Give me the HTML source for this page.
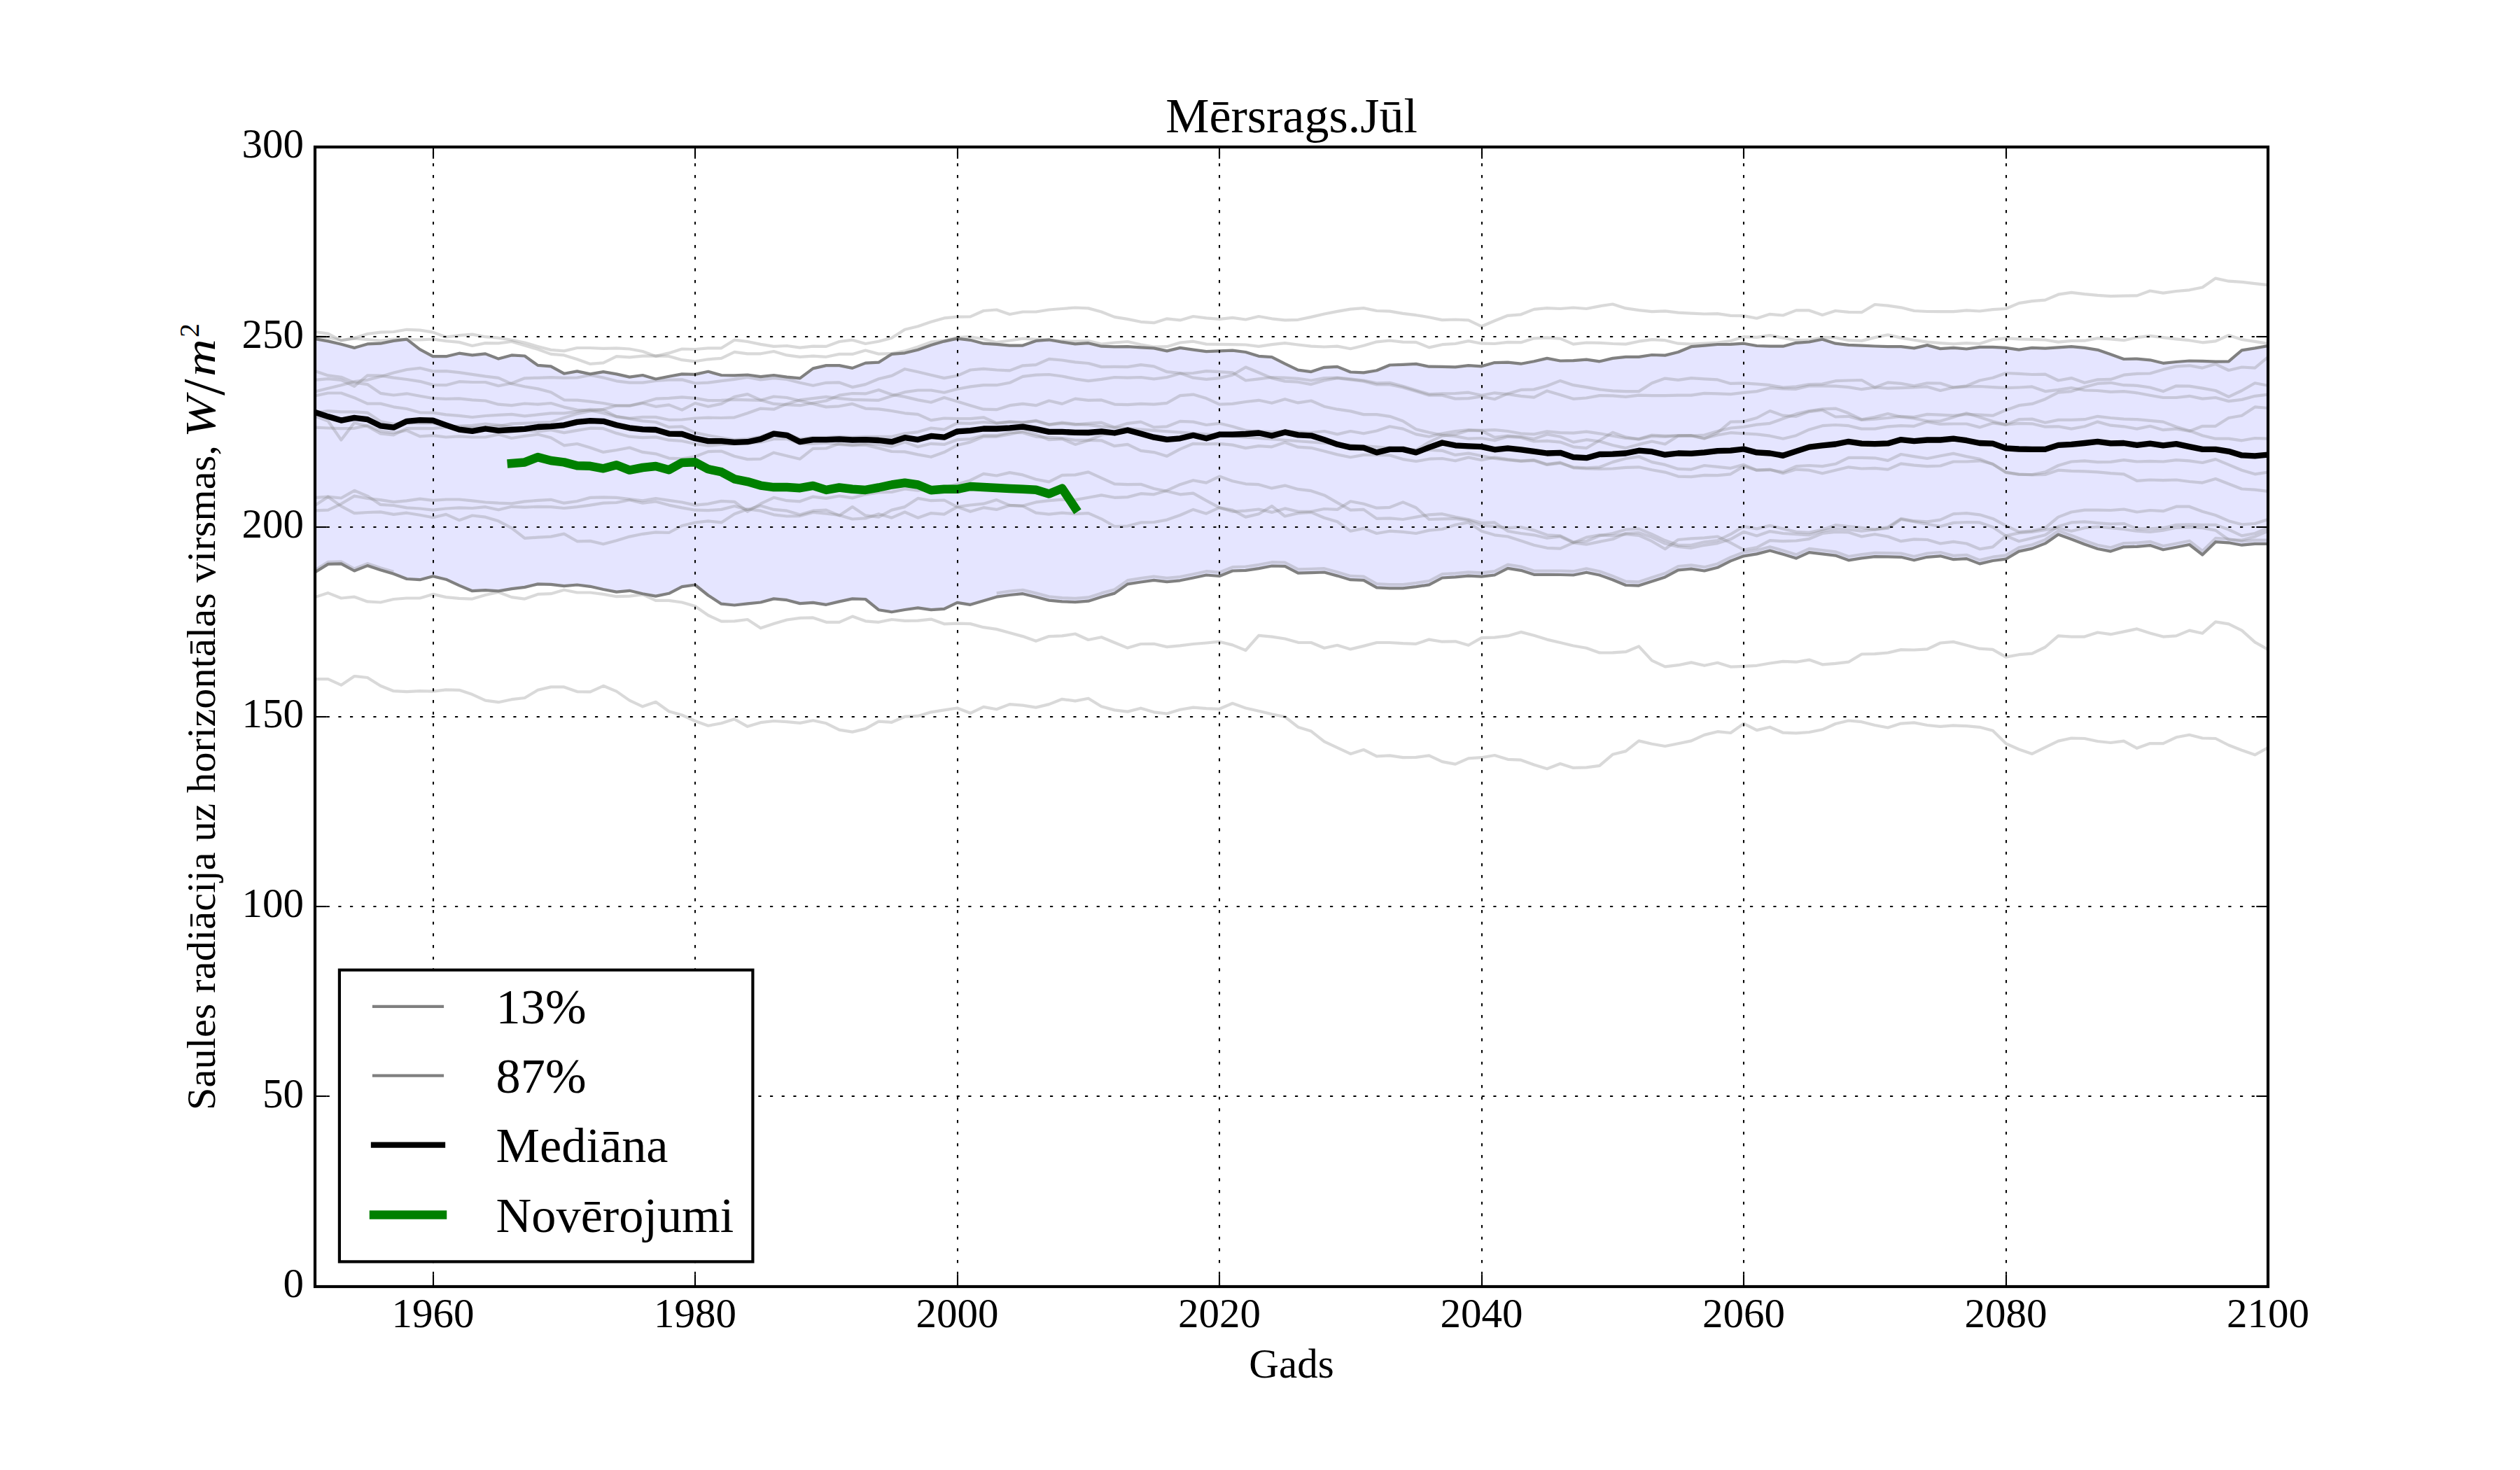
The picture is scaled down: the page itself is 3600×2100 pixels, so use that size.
<!DOCTYPE html>
<html lang="lv"><head><meta charset="utf-8"><title>Mērsrags.Jūl</title>
<style>
html,body{margin:0;padding:0;background:#fff;}
body{width:3600px;height:2100px;overflow:hidden;}
svg{display:block;}
text{font-family:"Liberation Serif","DejaVu Serif",serif;fill:#000;}
.tk{font-size:59px;}
.lg{font-size:70.3px;}
</style></head><body>
<svg width="3600" height="2100" viewBox="0 0 3600 2100">
<rect x="0" y="0" width="3600" height="2100" fill="#ffffff"/>
<defs><clipPath id="ax"><rect x="450.0" y="210.0" width="2790.0" height="1627.5"/></clipPath></defs>
<g clip-path="url(#ax)" fill="none" stroke-linejoin="round" stroke-linecap="butt">
<polygon points="450.0,484.0 468.7,487.4 487.4,491.8 506.2,496.9 524.9,491.4 543.6,490.7 562.3,486.9 581.1,484.7 599.8,499.2 618.5,509.2 637.2,509.2 656.0,504.7 674.7,507.4 693.4,505.4 712.1,512.6 730.9,507.4 749.6,508.5 768.3,521.9 787.0,523.3 805.8,533.7 824.5,530.4 843.2,534.4 861.9,531.1 880.7,534.4 899.4,538.6 918.1,536.0 936.8,541.5 955.6,537.8 974.3,534.4 993.0,534.9 1011.7,530.8 1030.5,536.0 1049.2,536.4 1067.9,535.5 1086.6,538.2 1105.4,536.0 1124.1,538.6 1142.8,540.4 1161.5,526.4 1180.3,522.1 1199.0,522.1 1217.7,525.9 1236.4,518.6 1255.2,517.7 1273.9,505.9 1292.6,504.3 1311.3,499.8 1330.1,493.1 1348.8,487.6 1367.5,483.6 1386.2,485.8 1405.0,490.7 1423.7,491.8 1442.4,493.6 1461.1,493.6 1479.9,486.9 1498.6,485.3 1517.3,488.7 1536.0,491.4 1554.8,490.2 1573.5,494.7 1592.2,495.4 1610.9,495.2 1629.7,496.3 1648.4,497.4 1667.1,501.4 1685.8,496.9 1704.6,499.6 1723.3,502.1 1742.0,501.4 1760.7,500.7 1779.5,503.0 1798.2,508.8 1816.9,510.1 1835.6,519.7 1854.4,528.6 1873.1,531.1 1891.8,524.8 1910.5,523.9 1929.3,531.5 1948.0,532.4 1966.7,529.3 1985.4,521.5 2004.2,520.8 2022.9,519.9 2041.6,523.7 2060.3,523.9 2079.1,524.4 2097.8,522.1 2116.5,523.3 2135.2,518.1 2154.0,517.7 2172.7,519.7 2191.4,516.3 2210.1,511.9 2228.9,515.5 2247.6,515.2 2266.3,513.7 2285.0,516.3 2303.8,511.9 2322.5,509.9 2341.2,509.9 2359.9,507.0 2378.7,507.6 2397.4,503.0 2416.1,495.2 2434.8,493.6 2453.6,492.0 2472.3,491.8 2491.0,490.7 2509.7,494.0 2528.5,494.7 2547.2,494.7 2565.9,489.8 2584.6,488.5 2603.4,484.7 2622.1,490.7 2640.8,492.9 2659.5,493.6 2678.3,494.5 2697.0,495.2 2715.7,495.2 2734.4,497.4 2753.2,493.1 2771.9,498.1 2790.6,496.9 2809.3,498.5 2828.1,495.8 2846.8,495.8 2865.5,496.9 2884.2,499.6 2903.0,496.9 2921.7,497.6 2940.4,496.3 2959.1,495.2 2977.9,496.9 2996.6,499.8 3015.3,506.3 3034.0,513.0 3052.8,512.6 3071.5,514.3 3090.2,518.8 3108.9,517.0 3127.7,515.5 3146.4,515.9 3165.1,516.6 3183.8,516.3 3202.6,500.3 3221.3,497.4 3240.0,494.0 3240.0,776.9 3221.3,776.9 3202.6,778.7 3183.8,775.3 3165.1,774.2 3146.4,792.5 3127.7,778.0 3108.9,781.8 3090.2,785.3 3071.5,779.1 3052.8,780.9 3034.0,781.3 3015.3,787.6 2996.6,784.0 2977.9,777.5 2959.1,770.2 2940.4,763.5 2921.7,776.4 2903.0,783.6 2884.2,787.6 2865.5,798.7 2846.8,801.0 2828.1,805.4 2809.3,798.1 2790.6,799.2 2771.9,794.3 2753.2,795.8 2734.4,800.3 2715.7,795.8 2697.0,795.4 2678.3,795.2 2659.5,797.4 2640.8,800.3 2622.1,793.6 2603.4,791.4 2584.6,789.1 2565.9,797.6 2547.2,791.8 2528.5,786.5 2509.7,791.4 2491.0,794.3 2472.3,801.4 2453.6,810.8 2434.8,815.5 2416.1,812.6 2397.4,814.3 2378.7,824.4 2359.9,830.4 2341.2,836.6 2322.5,836.0 2303.8,828.2 2285.0,821.5 2266.3,817.7 2247.6,821.5 2228.9,821.0 2210.1,820.8 2191.4,820.8 2172.7,814.8 2154.0,811.9 2135.2,821.5 2116.5,823.7 2097.8,822.6 2079.1,824.4 2060.3,825.5 2041.6,835.3 2022.9,838.2 2004.2,840.4 1985.4,840.4 1966.7,839.3 1948.0,828.8 1929.3,828.2 1910.5,822.6 1891.8,817.5 1873.1,818.1 1854.4,818.6 1835.6,808.8 1816.9,808.5 1798.2,812.1 1779.5,814.8 1760.7,815.5 1742.0,823.0 1723.3,821.5 1704.6,825.5 1685.8,829.3 1667.1,831.1 1648.4,828.8 1629.7,831.5 1610.9,834.4 1592.2,847.6 1573.5,852.7 1554.8,858.7 1536.0,860.1 1517.3,859.4 1498.6,857.6 1479.9,852.7 1461.1,848.2 1442.4,850.0 1423.7,852.7 1405.0,858.3 1386.2,863.8 1367.5,860.9 1348.8,869.9 1330.1,871.2 1311.3,868.3 1292.6,871.0 1273.9,874.3 1255.2,871.2 1236.4,856.0 1217.7,855.4 1199.0,859.4 1180.3,863.8 1161.5,860.9 1142.8,862.1 1124.1,857.2 1105.4,855.4 1086.6,860.5 1067.9,862.3 1049.2,864.5 1030.5,862.7 1011.7,850.5 993.0,835.5 974.3,838.2 955.6,847.8 936.8,851.6 918.1,848.2 899.4,843.8 880.7,845.6 861.9,842.0 843.2,837.8 824.5,835.5 805.8,837.1 787.0,834.9 768.3,834.4 749.6,838.9 730.9,841.1 712.1,844.4 693.4,843.1 674.7,844.2 656.0,836.4 637.2,827.7 618.5,823.3 599.8,828.2 581.1,827.0 562.3,819.7 543.6,814.3 524.9,808.1 506.2,815.5 487.4,805.4 468.7,805.9 450.0,817.5" fill="#0000ff" fill-opacity="0.1" stroke="none"/>
<polyline points="450.0,853.1 468.7,847.1 487.4,854.5 506.2,852.7 524.9,859.4 543.6,860.5 562.3,856.0 581.1,854.5 599.8,854.5 618.5,848.9 637.2,853.1 656.0,854.9 674.7,855.6 693.4,850.0 712.1,846.0 730.9,853.1 749.6,855.6 768.3,848.9 787.0,848.2 805.8,842.7 824.5,846.5 843.2,846.5 861.9,848.9 880.7,852.2 899.4,851.6 918.1,849.3 936.8,857.8 955.6,857.8 974.3,860.5 993.0,866.1 1011.7,879.0 1030.5,887.7 1049.2,887.3 1067.9,885.0 1086.6,897.3 1105.4,891.1 1124.1,885.5 1142.8,882.8 1161.5,882.4 1180.3,888.8 1199.0,888.8 1217.7,880.6 1236.4,887.3 1255.2,888.8 1273.9,885.0 1292.6,886.8 1311.3,886.6 1330.1,884.6 1348.8,891.3 1367.5,890.6 1386.2,891.1 1405.0,896.2 1423.7,898.9 1442.4,904.0 1461.1,909.1 1479.9,915.8 1498.6,909.1 1517.3,908.4 1536.0,905.5 1554.8,914.0 1573.5,910.2 1592.2,918.0 1610.9,925.6 1629.7,920.0 1648.4,919.8 1667.1,924.1 1685.8,922.3 1704.6,920.0 1723.3,918.5 1742.0,916.7 1760.7,921.4 1779.5,929.0 1798.2,907.8 1816.9,909.6 1835.6,912.5 1854.4,917.8 1873.1,918.0 1891.8,925.8 1910.5,921.8 1929.3,927.4 1948.0,922.9 1966.7,918.0 1985.4,918.0 2004.2,919.2 2022.9,919.8 2041.6,913.6 2060.3,916.7 2079.1,916.3 2097.8,921.8 2116.5,911.1 2135.2,910.7 2154.0,908.4 2172.7,902.9 2191.4,907.8 2210.1,913.6 2228.9,918.0 2247.6,922.5 2266.3,925.8 2285.0,932.5 2303.8,932.3 2322.5,931.2 2341.2,923.4 2359.9,943.7 2378.7,952.4 2397.4,950.2 2416.1,946.4 2434.8,950.8 2453.6,946.8 2472.3,952.6 2491.0,951.9 2509.7,950.8 2528.5,947.5 2547.2,944.8 2565.9,945.7 2584.6,942.6 2603.4,949.3 2622.1,947.9 2640.8,945.7 2659.5,934.5 2678.3,934.1 2697.0,932.5 2715.7,928.1 2734.4,928.5 2753.2,927.4 2771.9,918.5 2790.6,916.9 2809.3,921.8 2828.1,926.7 2846.8,927.9 2865.5,938.6 2884.2,935.2 2903.0,933.6 2921.7,924.5 2940.4,908.4 2959.1,909.6 2977.9,909.6 2996.6,903.5 3015.3,906.2 3034.0,902.4 3052.8,898.4 3071.5,904.4 3090.2,909.6 3108.9,908.4 3127.7,900.6 3146.4,904.7 3165.1,888.4 3183.8,891.3 3202.6,900.6 3221.3,917.4 3240.0,927.9" stroke="#808080" stroke-opacity="0.3" stroke-width="4.2"/>
<polyline points="450.0,970.2 468.7,970.2 487.4,978.7 506.2,966.0 524.9,968.0 543.6,979.8 562.3,987.2 581.1,988.1 599.8,987.2 618.5,987.6 637.2,985.4 656.0,985.8 674.7,992.1 693.4,1000.6 712.1,1003.2 730.9,999.2 749.6,997.0 768.3,985.8 787.0,981.4 805.8,981.4 824.5,988.1 843.2,988.3 861.9,979.8 880.7,987.6 899.4,1000.6 918.1,1009.3 936.8,1002.8 955.6,1016.2 974.3,1021.5 993.0,1030.0 1011.7,1036.7 1030.5,1033.3 1049.2,1027.3 1067.9,1037.8 1086.6,1032.2 1105.4,1030.0 1124.1,1031.1 1142.8,1032.9 1161.5,1029.3 1180.3,1033.3 1199.0,1042.7 1217.7,1045.6 1236.4,1041.1 1255.2,1030.7 1273.9,1031.8 1292.6,1023.7 1311.3,1022.9 1330.1,1017.3 1348.8,1014.4 1367.5,1011.5 1386.2,1018.8 1405.0,1009.9 1423.7,1013.3 1442.4,1006.1 1461.1,1007.7 1479.9,1010.6 1498.6,1006.1 1517.3,998.8 1536.0,1001.4 1554.8,997.7 1573.5,1009.3 1592.2,1014.4 1610.9,1016.6 1629.7,1011.7 1648.4,1017.3 1667.1,1019.5 1685.8,1013.7 1704.6,1010.6 1723.3,1012.2 1742.0,1012.8 1760.7,1004.8 1779.5,1011.5 1798.2,1015.8 1816.9,1020.2 1835.6,1024.0 1854.4,1038.7 1873.1,1044.6 1891.8,1059.3 1910.5,1068.1 1929.3,1076.9 1948.0,1071.0 1966.7,1080.4 1985.4,1079.3 2004.2,1082.2 2022.9,1081.9 2041.6,1079.3 2060.3,1088.1 2079.1,1091.6 2097.8,1083.4 2116.5,1082.2 2135.2,1079.0 2154.0,1084.8 2172.7,1085.7 2191.4,1092.5 2210.1,1098.3 2228.9,1091.0 2247.6,1096.9 2266.3,1096.3 2285.0,1093.9 2303.8,1077.8 2322.5,1073.1 2341.2,1058.4 2359.9,1062.8 2378.7,1066.0 2397.4,1062.2 2416.1,1058.4 2434.8,1049.9 2453.6,1045.2 2472.3,1047.0 2491.0,1033.7 2509.7,1043.1 2528.5,1038.7 2547.2,1046.7 2565.9,1047.4 2584.6,1046.0 2603.4,1042.3 2622.1,1034.0 2640.8,1029.5 2659.5,1031.2 2678.3,1036.0 2697.0,1039.5 2715.7,1033.6 2734.4,1032.4 2753.2,1036.0 2771.9,1037.9 2790.6,1036.4 2809.3,1037.1 2828.1,1038.8 2846.8,1043.8 2865.5,1062.1 2884.2,1070.5 2903.0,1076.9 2921.7,1067.6 2940.4,1058.6 2959.1,1054.5 2977.9,1055.0 2996.6,1059.0 3015.3,1061.0 3034.0,1058.6 3052.8,1068.8 3071.5,1062.1 3090.2,1062.1 3108.9,1053.3 3127.7,1049.8 3146.4,1054.5 3165.1,1055.0 3183.8,1064.5 3202.6,1071.7 3221.3,1078.3 3240.0,1068.1" stroke="#808080" stroke-opacity="0.3" stroke-width="4.2"/>
<polyline points="450.0,474.0 468.7,476.7 487.4,486.5 506.2,483.0 524.9,477.0 543.6,474.6 562.3,474.0 581.1,470.8 599.8,471.7 618.5,474.6 637.2,481.5 656.0,479.1 674.7,477.6 693.4,481.2 712.1,482.7 730.9,485.7 749.6,489.5 768.3,494.9 787.0,499.9 805.8,501.4 824.5,497.0 843.2,497.0 861.9,497.9 880.7,497.3 899.4,498.5 918.1,502.0 936.8,508.9 955.6,504.4 974.3,498.5 993.0,499.0 1011.7,497.3 1030.5,497.3 1049.2,485.7 1067.9,488.0 1086.6,491.9 1105.4,494.9 1124.1,494.0 1142.8,496.7 1161.5,494.6 1180.3,494.9 1199.0,488.0 1217.7,485.7 1236.4,491.0 1255.2,487.7 1273.9,482.7 1292.6,470.8 1311.3,466.3 1330.1,459.8 1348.8,454.4 1367.5,452.6 1386.2,452.3 1405.0,444.0 1423.7,442.5 1442.4,449.0 1461.1,445.5 1479.9,445.5 1498.6,442.5 1517.3,441.0 1536.0,439.5 1554.8,440.4 1573.5,445.5 1592.2,452.9 1610.9,455.9 1629.7,459.8 1648.4,461.2 1667.1,455.3 1685.8,457.4 1704.6,452.0 1723.3,454.4 1742.0,455.9 1760.7,453.8 1779.5,456.5 1798.2,452.0 1816.9,455.3 1835.6,457.4 1854.4,456.8 1873.1,452.9 1891.8,448.5 1910.5,444.9 1929.3,441.6 1948.0,440.1 1966.7,444.0 1985.4,444.6 2004.2,447.9 2022.9,450.2 2041.6,453.2 2060.3,457.1 2079.1,456.5 2097.8,457.4 2116.5,466.3 2135.2,458.3 2154.0,450.8 2172.7,449.3 2191.4,441.9 2210.1,440.1 2228.9,441.0 2247.6,439.5 2266.3,441.0 2285.0,437.4 2303.8,434.5 2322.5,440.4 2341.2,443.1 2359.9,445.2 2378.7,444.3 2397.4,446.7 2416.1,447.6 2434.8,448.5 2453.6,448.2 2472.3,450.8 2491.0,451.1 2509.7,454.7 2528.5,448.8 2547.2,450.5 2565.9,443.4 2584.6,443.4 2603.4,449.9 2622.1,444.0 2640.8,445.8 2659.5,446.2 2678.3,435.0 2697.0,436.7 2715.7,439.3 2734.4,444.0 2753.2,445.0 2771.9,445.2 2790.6,445.2 2809.3,443.3 2828.1,444.5 2846.8,442.1 2865.5,441.0 2884.2,433.1 2903.0,430.2 2921.7,428.6 2940.4,420.7 2959.1,417.9 2977.9,420.2 2996.6,421.9 3015.3,423.1 3034.0,422.6 3052.8,422.4 3071.5,415.5 3090.2,418.6 3108.9,416.0 3127.7,414.3 3146.4,410.5 3165.1,397.6 3183.8,401.7 3202.6,402.9 3221.3,405.2 3240.0,407.1" stroke="#808080" stroke-opacity="0.3" stroke-width="4.2"/>
<polyline points="450.0,480.6 468.7,482.1 487.4,486.0 506.2,483.6 524.9,485.1 543.6,486.5 562.3,484.5 581.1,485.1 599.8,485.4 618.5,484.5 637.2,487.1 656.0,488.9 674.7,494.0 693.4,490.1 712.1,490.4 730.9,488.0 749.6,493.4 768.3,499.0 787.0,505.9 805.8,507.4 824.5,513.3 843.2,519.9 861.9,518.4 880.7,509.2 899.4,510.4 918.1,508.6 936.8,508.3 955.6,508.9 974.3,514.2 993.0,516.3 1011.7,513.3 1030.5,511.8 1049.2,502.9 1067.9,505.3 1086.6,505.3 1105.4,502.0 1124.1,507.4 1142.8,509.8 1161.5,508.6 1180.3,509.8 1199.0,505.9 1217.7,505.9 1236.4,500.5 1255.2,505.6 1273.9,505.0 1292.6,501.4 1311.3,495.5 1330.1,488.6 1348.8,486.5 1367.5,482.1 1386.2,481.2 1405.0,484.2 1423.7,489.2 1442.4,486.5 1461.1,483.6 1479.9,484.8 1498.6,486.2 1517.3,487.1 1536.0,487.7 1554.8,487.1 1573.5,491.6 1592.2,489.5 1610.9,488.0 1629.7,492.2 1648.4,495.5 1667.1,495.2 1685.8,489.5 1704.6,487.7 1723.3,491.6 1742.0,491.9 1760.7,492.2 1779.5,492.5 1798.2,494.9 1816.9,492.2 1835.6,490.1 1854.4,492.5 1873.1,494.6 1891.8,495.5 1910.5,494.6 1929.3,498.2 1948.0,493.7 1966.7,488.3 1985.4,486.5 2004.2,488.6 2022.9,488.9 2041.6,496.4 2060.3,492.2 2079.1,491.0 2097.8,487.1 2116.5,490.7 2135.2,491.0 2154.0,488.9 2172.7,489.2 2191.4,483.3 2210.1,482.4 2228.9,483.6 2247.6,491.6 2266.3,489.5 2285.0,489.8 2303.8,491.0 2322.5,491.6 2341.2,487.7 2359.9,485.1 2378.7,486.2 2397.4,490.7 2416.1,491.6 2434.8,490.7 2453.6,489.5 2472.3,487.1 2491.0,481.2 2509.7,481.8 2528.5,479.1 2547.2,482.7 2565.9,486.2 2584.6,485.7 2603.4,482.1 2622.1,482.1 2640.8,486.2 2659.5,486.9 2678.3,482.1 2697.0,478.3 2715.7,482.6 2734.4,485.7 2753.2,488.6 2771.9,490.2 2790.6,491.4 2809.3,490.2 2828.1,491.0 2846.8,485.0 2865.5,483.1 2884.2,484.3 2903.0,484.8 2921.7,485.5 2940.4,488.6 2959.1,486.9 2977.9,486.7 2996.6,483.1 3015.3,484.3 3034.0,486.2 3052.8,482.1 3071.5,479.8 3090.2,482.1 3108.9,484.3 3127.7,486.2 3146.4,489.3 3165.1,487.4 3183.8,479.0 3202.6,485.0 3221.3,487.9 3240.0,491.0" stroke="#808080" stroke-opacity="0.3" stroke-width="4.2"/>
<polyline points="450.0,530.1 468.7,536.4 487.4,538.8 506.2,546.7 524.9,549.1 543.6,561.8 562.3,564.5 581.1,562.3 599.8,565.8 618.5,569.0 637.2,569.8 656.0,569.4 674.7,571.3 693.4,572.5 712.1,577.7 730.9,579.2 749.6,576.5 768.3,577.6 787.0,576.0 805.8,581.6 824.5,585.6 843.2,586.3 861.9,590.3 880.7,595.1 899.4,597.5 918.1,595.9 936.8,595.9 955.6,599.8 974.3,599.5 993.0,597.5 1011.7,596.7 1030.5,597.0 1049.2,596.3 1067.9,590.3 1086.6,583.6 1105.4,584.7 1124.1,576.9 1142.8,571.4 1161.5,569.1 1180.3,566.9 1199.0,569.1 1217.7,570.9 1236.4,571.4 1255.2,571.8 1273.9,565.8 1292.6,560.2 1311.3,557.5 1330.1,557.5 1348.8,560.7 1367.5,555.8 1386.2,552.4 1405.0,550.2 1423.7,550.2 1442.4,546.8 1461.1,537.9 1479.9,535.7 1498.6,535.0 1517.3,537.5 1536.0,541.3 1554.8,544.2 1573.5,541.9 1592.2,539.0 1610.9,539.7 1629.7,539.0 1648.4,541.3 1667.1,539.0 1685.8,533.5 1704.6,533.0 1723.3,530.1 1742.0,531.2 1760.7,532.3 1779.5,543.5 1798.2,541.3 1816.9,539.0 1835.6,539.7 1854.4,540.8 1873.1,543.5 1891.8,540.1 1910.5,539.7 1929.3,541.3 1948.0,543.5 1966.7,547.3 1985.4,546.8 2004.2,551.7 2022.9,557.5 2041.6,563.1 2060.3,562.4 2079.1,562.0 2097.8,560.7 2116.5,564.7 2135.2,561.3 2154.0,563.1 2172.7,565.8 2191.4,567.6 2210.1,558.4 2228.9,564.0 2247.6,569.8 2266.3,568.5 2285.0,565.1 2303.8,565.3 2322.5,566.9 2341.2,564.7 2359.9,565.1 2378.7,565.1 2397.4,564.7 2416.1,564.7 2434.8,561.8 2453.6,562.4 2472.3,563.1 2491.0,560.9 2509.7,559.1 2528.5,554.2 2547.2,555.3 2565.9,555.8 2584.6,551.3 2603.4,551.3 2622.1,551.7 2640.8,553.1 2659.5,556.2 2678.3,553.5 2697.0,554.6 2715.7,554.2 2734.4,553.5 2753.2,552.4 2771.9,558.0 2790.6,553.5 2809.3,551.3 2828.1,543.5 2846.8,539.7 2865.5,533.0 2884.2,533.9 2903.0,535.0 2921.7,534.6 2940.4,543.5 2959.1,540.1 2977.9,546.8 2996.6,542.4 3015.3,541.9 3034.0,535.7 3052.8,533.9 3071.5,533.5 3090.2,527.9 3108.9,523.4 3127.7,522.3 3146.4,525.6 3165.1,520.1 3183.8,529.0 3202.6,524.5 3221.3,525.6 3240.0,510.0" stroke="#808080" stroke-opacity="0.3" stroke-width="4.2"/>
<polyline points="450.0,542.8 468.7,541.2 487.4,542.8 506.2,551.8 524.9,536.4 543.6,536.7 562.3,539.6 581.1,542.0 599.8,544.8 618.5,549.9 637.2,550.2 656.0,545.2 674.7,546.0 693.4,546.0 712.1,551.2 730.9,547.5 749.6,540.3 768.3,539.8 787.0,539.2 805.8,539.8 824.5,539.5 843.2,536.0 861.9,539.5 880.7,544.3 899.4,546.7 918.1,546.7 936.8,544.0 955.6,542.7 974.3,542.4 993.0,547.5 1011.7,546.7 1030.5,544.2 1049.2,541.9 1067.9,539.0 1086.6,542.4 1105.4,540.1 1124.1,541.9 1142.8,546.8 1161.5,550.8 1180.3,546.8 1199.0,546.4 1217.7,553.1 1236.4,549.1 1255.2,541.3 1273.9,536.8 1292.6,527.2 1311.3,531.2 1330.1,535.7 1348.8,540.1 1367.5,536.8 1386.2,528.5 1405.0,526.8 1423.7,528.5 1442.4,529.4 1461.1,522.3 1479.9,521.2 1498.6,512.9 1517.3,514.5 1536.0,517.4 1554.8,519.0 1573.5,524.1 1592.2,523.9 1610.9,524.1 1629.7,521.2 1648.4,523.4 1667.1,531.2 1685.8,533.0 1704.6,539.7 1723.3,541.9 1742.0,540.1 1760.7,535.7 1779.5,524.5 1798.2,532.3 1816.9,540.1 1835.6,544.6 1854.4,545.7 1873.1,549.1 1891.8,543.5 1910.5,540.1 1929.3,542.4 1948.0,544.6 1966.7,549.5 1985.4,549.5 2004.2,553.5 2022.9,559.1 2041.6,564.7 2060.3,564.7 2079.1,569.6 2097.8,569.1 2116.5,566.5 2135.2,570.2 2154.0,562.4 2172.7,556.9 2191.4,556.4 2210.1,551.3 2228.9,543.9 2247.6,550.2 2266.3,553.1 2285.0,556.4 2303.8,558.4 2322.5,559.1 2341.2,559.1 2359.9,547.3 2378.7,540.6 2397.4,542.8 2416.1,540.1 2434.8,541.3 2453.6,542.4 2472.3,547.9 2491.0,547.3 2509.7,548.6 2528.5,550.2 2547.2,553.5 2565.9,552.4 2584.6,549.1 2603.4,548.6 2622.1,544.2 2640.8,543.5 2659.5,543.0 2678.3,553.5 2697.0,546.4 2715.7,547.9 2734.4,551.3 2753.2,547.3 2771.9,547.5 2790.6,553.5 2809.3,552.4 2828.1,552.0 2846.8,553.1 2865.5,554.2 2884.2,553.5 2903.0,552.4 2921.7,559.1 2940.4,556.9 2959.1,554.0 2977.9,557.5 2996.6,558.0 3015.3,559.8 3034.0,559.1 3052.8,561.3 3071.5,564.7 3090.2,568.0 3108.9,568.0 3127.7,565.8 3146.4,569.6 3165.1,568.0 3183.8,573.1 3202.6,570.9 3221.3,565.8 3240.0,563.6" stroke="#808080" stroke-opacity="0.3" stroke-width="4.2"/>
<polyline points="450.0,559.4 468.7,554.7 487.4,550.2 506.2,545.2 524.9,542.8 543.6,538.0 562.3,532.5 581.1,528.0 599.8,525.8 618.5,530.4 637.2,530.1 656.0,532.1 674.7,534.8 693.4,537.7 712.1,539.9 730.9,548.3 749.6,552.2 768.3,555.4 787.0,560.2 805.8,571.3 824.5,571.6 843.2,573.7 861.9,576.0 880.7,579.5 899.4,579.7 918.1,576.0 936.8,580.8 955.6,578.4 974.3,585.6 993.0,576.0 1011.7,580.8 1030.5,576.9 1049.2,566.9 1067.9,563.1 1086.6,571.4 1105.4,576.9 1124.1,578.1 1142.8,579.2 1161.5,575.8 1180.3,572.5 1199.0,564.7 1217.7,562.0 1236.4,562.4 1255.2,556.9 1273.9,563.6 1292.6,566.9 1311.3,571.4 1330.1,574.7 1348.8,568.0 1367.5,573.6 1386.2,579.2 1405.0,584.7 1423.7,585.2 1442.4,579.2 1461.1,576.9 1479.9,579.2 1498.6,572.5 1517.3,576.9 1536.0,569.6 1554.8,571.8 1573.5,571.4 1592.2,577.6 1610.9,578.1 1629.7,576.9 1648.4,577.6 1667.1,575.8 1685.8,565.1 1704.6,563.6 1723.3,569.1 1742.0,577.6 1760.7,576.9 1779.5,574.0 1798.2,571.8 1816.9,575.8 1835.6,570.2 1854.4,575.4 1873.1,572.5 1891.8,580.7 1910.5,584.7 1929.3,587.4 1948.0,592.1 1966.7,592.1 1985.4,594.8 2004.2,601.5 2022.9,613.3 2041.6,617.8 2060.3,621.5 2079.1,623.1 2097.8,626.7 2116.5,626.0 2135.2,629.3 2154.0,623.8 2172.7,624.9 2191.4,630.5 2210.1,629.8 2228.9,631.6 2247.6,638.3 2266.3,640.1 2285.0,629.3 2303.8,617.8 2322.5,624.4 2341.2,627.6 2359.9,623.1 2378.7,623.8 2397.4,622.2 2416.1,622.2 2434.8,626.7 2453.6,618.2 2472.3,602.6 2491.0,602.1 2509.7,597.0 2528.5,587.0 2547.2,593.7 2565.9,594.8 2584.6,588.1 2603.4,585.9 2622.1,595.5 2640.8,594.8 2659.5,599.9 2678.3,598.6 2697.0,597.0 2715.7,594.8 2734.4,595.9 2753.2,591.9 2771.9,592.6 2790.6,593.7 2809.3,591.9 2828.1,592.6 2846.8,593.7 2865.5,585.9 2884.2,579.2 2903.0,576.9 2921.7,570.2 2940.4,560.7 2959.1,559.1 2977.9,553.1 2996.6,547.9 3015.3,546.8 3034.0,550.2 3052.8,550.8 3071.5,553.5 3090.2,559.1 3108.9,551.3 3127.7,551.7 3146.4,554.6 3165.1,558.0 3183.8,566.9 3202.6,558.0 3221.3,547.3 3240.0,550.8" stroke="#808080" stroke-opacity="0.3" stroke-width="4.2"/>
<polyline points="450.0,565.5 468.7,561.5 487.4,561.5 506.2,568.2 524.9,576.6 543.6,576.6 562.3,581.3 581.1,584.0 599.8,589.3 618.5,589.6 637.2,592.3 656.0,593.9 674.7,596.0 693.4,594.0 712.1,592.8 730.9,591.9 749.6,594.3 768.3,592.4 787.0,590.3 805.8,590.3 824.5,587.9 843.2,584.8 861.9,585.6 880.7,595.1 899.4,598.3 918.1,601.4 936.8,603.0 955.6,610.2 974.3,609.4 993.0,618.1 1011.7,622.1 1030.5,625.2 1049.2,628.2 1067.9,627.1 1086.6,623.8 1105.4,617.1 1124.1,619.3 1142.8,627.1 1161.5,624.9 1180.3,624.9 1199.0,623.8 1217.7,624.9 1236.4,623.8 1255.2,623.8 1273.9,623.8 1292.6,619.3 1311.3,617.1 1330.1,611.5 1348.8,613.7 1367.5,604.4 1386.2,604.8 1405.0,603.0 1423.7,604.8 1442.4,602.6 1461.1,603.7 1479.9,600.8 1498.6,606.6 1517.3,603.7 1536.0,605.9 1554.8,607.0 1573.5,609.3 2022.9,642.7 2041.6,631.6 2060.3,622.7 2079.1,620.4 2097.8,614.9 2116.5,615.5 2135.2,624.9 2154.0,622.7 2172.7,623.8 2191.4,627.1 2210.1,620.4 2228.9,623.8 2247.6,631.6 2266.3,628.2 2285.0,630.5 2303.8,636.0 2322.5,640.1 2341.2,634.9 2359.9,630.5 2378.7,634.5 2397.4,622.7 2416.1,622.2 2434.8,626.0 2453.6,621.5 2472.3,618.2 2491.0,619.3 2509.7,620.4 2528.5,622.7 2547.2,626.7 2565.9,622.2 2584.6,613.7 2603.4,608.2 2622.1,607.0 2640.8,608.2 2659.5,612.6 2678.3,612.6 2697.0,609.3 2715.7,608.2 2734.4,608.8 2753.2,602.6 2771.9,605.9 2790.6,605.5 2809.3,605.5 2828.1,610.4 2846.8,604.4 2865.5,606.6 2884.2,604.8 2903.0,605.3 2921.7,609.7 2940.4,609.3 2959.1,612.6 2977.9,609.3 2996.6,602.6 3015.3,607.7 3034.0,609.3 3052.8,612.6 3071.5,608.8 3090.2,614.2 3108.9,612.6 3127.7,616.0 3146.4,608.8 3165.1,608.8 3183.8,597.0 3202.6,593.7 3221.3,581.4 3240.0,583.0" stroke="#808080" stroke-opacity="0.3" stroke-width="4.2"/>
<polyline points="450.0,610.7 468.7,611.5 487.4,612.1 506.2,611.8 524.9,607.9 543.6,615.8 562.3,618.2 581.1,615.0 599.8,623.4 618.5,622.1 637.2,624.5 656.0,623.4 674.7,624.5 693.4,624.5 712.1,620.6 730.9,626.0 749.6,622.9 768.3,620.5 787.0,625.2 805.8,636.3 824.5,634.0 843.2,639.5 861.9,645.9 880.7,643.0 899.4,639.5 918.1,645.9 936.8,648.3 955.6,654.6 974.3,655.4 993.0,652.2 1011.7,645.1 1030.5,644.5 1049.2,651.7 1067.9,656.1 1086.6,655.7 1105.4,646.7 1124.1,651.2 1142.8,655.7 1161.5,640.9 1180.3,640.5 1199.0,633.8 1217.7,635.6 1236.4,633.8 1255.2,634.9 1273.9,637.8 1292.6,631.6 1311.3,638.3 1330.1,633.8 1348.8,634.9 1367.5,628.2 1386.2,627.1 1405.0,622.2 1423.7,622.2 1442.4,617.8 1461.1,618.2 1479.9,623.8 1498.6,624.9 1517.3,626.0 1536.0,628.9 1554.8,628.9 1573.5,629.3 1592.2,637.2 1610.9,634.9 1629.7,643.8 1648.4,646.1 1667.1,651.7 1685.8,641.6 1704.6,633.8 1723.3,634.3 1742.0,633.8 1760.7,635.6 1779.5,640.1 1798.2,637.2 1816.9,638.3 1835.6,632.0 1854.4,638.7 1873.1,639.8 1891.8,644.5 1910.5,649.4 1929.3,653.2 1948.0,649.9 1966.7,649.9 1985.4,650.5 2004.2,656.1 2022.9,659.0 2041.6,655.7 2060.3,655.0 2079.1,658.3 2097.8,653.4 2116.5,657.2 2135.2,653.4 2154.0,656.1 2172.7,658.3 2191.4,657.2 2210.1,663.2 2228.9,660.6 2247.6,668.4 2266.3,669.5 2285.0,669.9 2303.8,669.5 2322.5,667.9 2341.2,667.3 2359.9,671.3 2378.7,674.6 2397.4,680.6 2416.1,681.1 2434.8,678.9 2453.6,679.1 2472.3,677.3 2491.0,666.1 2509.7,671.7 2528.5,670.6 2547.2,676.2 2565.9,670.6 2584.6,671.7 2603.4,676.2 2622.1,671.7 2640.8,667.3 2659.5,669.5 2678.3,668.8 2697.0,670.6 2715.7,662.4 2734.4,664.6 2753.2,666.1 2771.9,665.5 2790.6,659.5 2809.3,659.5 2828.1,658.3 2846.8,662.8 2865.5,675.1 2884.2,677.3 2903.0,678.4 2921.7,678.0 2940.4,671.7 2959.1,672.8 2977.9,673.3 2996.6,674.4 3015.3,676.2 3034.0,677.3 3052.8,686.9 3071.5,685.5 3090.2,686.2 3108.9,685.5 3127.7,688.0 3146.4,689.6 3165.1,684.0 3183.8,691.3 3202.6,698.5 3221.3,699.6 3240.0,701.8" stroke="#808080" stroke-opacity="0.3" stroke-width="4.2"/>
<polyline points="450.0,594.4 468.7,601.5 487.4,628.5 506.2,603.9 524.9,609.0 543.6,619.4 562.3,621.3 581.1,612.1 599.8,611.8 618.5,612.1 637.2,610.2 656.0,608.7 674.7,607.9 693.4,605.5 712.1,607.4 730.9,610.2 749.6,614.9 768.3,616.5 787.0,614.1 805.8,618.1 824.5,614.9 843.2,611.7 861.9,612.2 880.7,618.9 899.4,623.7 918.1,625.2 936.8,624.4 955.6,628.7 974.3,630.0 993.0,634.0 1011.7,636.7 1030.5,634.9 1049.2,634.3 1067.9,633.4 1086.6,631.6 1105.4,627.1 1124.1,627.1 1142.8,633.8 1161.5,633.8 1180.3,632.7 1199.0,634.9 1217.7,636.5 1236.4,635.6 1255.2,640.1 1273.9,645.0 1292.6,645.4 1311.3,649.4 1330.1,652.8 1348.8,646.1 1367.5,636.0 1386.2,631.6 1405.0,623.8 1423.7,623.8 1442.4,620.4 1461.1,616.0 1479.9,620.4 1498.6,628.2 1517.3,627.1 1536.0,634.9 1554.8,629.3 1573.5,621.5 1592.2,618.5 1610.9,614.5 1629.7,619.6 1648.4,624.7 1667.1,627.9 1685.8,626.3 1704.6,621.8 1723.3,626.3 1742.0,620.7 1760.7,620.7 1779.5,620.0 1798.2,618.5 1816.9,622.5 1835.6,617.4 1854.4,621.4 1873.1,622.3 1891.8,628.1 1910.5,634.8 1929.3,639.2 1948.0,639.7 1966.7,646.4 1985.4,641.9 2004.2,642.7 2022.9,645.0 2041.6,642.7 2060.3,643.8 2079.1,649.9 2097.8,647.6 2116.5,651.2 2135.2,655.0 2154.0,657.2 2172.7,658.8 2191.4,657.9 2210.1,663.9 2228.9,661.7 2247.6,667.3 2266.3,668.4 2285.0,667.3 2303.8,660.1 2322.5,655.0 2341.2,652.3 2359.9,660.1 2378.7,663.9 2397.4,669.9 2416.1,670.6 2434.8,665.0 2453.6,666.8 2472.3,668.8 2491.0,663.9 2509.7,671.7 2528.5,671.3 2547.2,674.4 2565.9,666.1 2584.6,665.0 2603.4,666.1 2622.1,662.8 2640.8,653.9 2659.5,653.9 2678.3,654.3 2697.0,657.9 2715.7,649.0 2734.4,652.1 2753.2,655.0 2771.9,651.2 2790.6,647.9 2809.3,652.1 2828.1,655.7 2846.8,663.2 2865.5,674.4 2884.2,678.0 2903.0,678.0 2921.7,674.4 2940.4,665.0 2959.1,659.5 2977.9,658.3 2996.6,660.1 3015.3,659.9 3034.0,657.2 3052.8,659.5 3071.5,658.8 3090.2,659.5 3108.9,657.2 3127.7,658.3 3146.4,661.0 3165.1,656.1 3183.8,663.9 3202.6,671.7 3221.3,677.3 3240.0,674.6" stroke="#808080" stroke-opacity="0.3" stroke-width="4.2"/>
<polyline points="450.0,589.6 468.7,587.2 487.4,588.3 506.2,588.3 524.9,589.6 543.6,602.0 562.3,605.8 581.1,603.9 599.8,604.7 618.5,604.7 637.2,607.9 656.0,610.2 674.7,611.0 693.4,610.2 712.1,608.7 730.9,605.4 749.6,604.6 768.3,603.8 787.0,603.0 805.8,596.7 824.5,591.1 843.2,587.1 861.9,584.8 880.7,579.5 899.4,579.5 918.1,575.2 936.8,569.7 955.6,568.9 974.3,567.3 993.0,568.9 1011.7,572.1 1030.5,571.8 1049.2,570.9 1067.9,571.4 1086.6,571.8 1105.4,566.5 1124.1,568.0 1142.8,572.5 1161.5,576.9 1180.3,581.4 1199.0,580.3 1217.7,576.9 1236.4,583.6 1255.2,584.3 1273.9,587.0 1292.6,590.3 1311.3,591.9 1330.1,600.4 1348.8,597.5 1367.5,598.1 1386.2,598.1 1405.0,596.3 1423.7,604.4 1442.4,602.6 1461.1,603.7 1479.9,601.5 1498.6,606.6 1517.3,604.8 1536.0,606.6 1554.8,604.8 1573.5,603.7 1592.2,610.4 1610.9,604.8 1629.7,602.6 1648.4,610.4 1667.1,609.3 1685.8,601.9 1704.6,602.6 1723.3,607.0 1742.0,604.8 1760.7,609.3 1779.5,614.9 1798.2,616.0 1816.9,617.1 1835.6,616.0 1854.4,617.1 1873.1,618.2 1891.8,616.0 1910.5,620.4 1929.3,616.0 1948.0,619.3 1966.7,615.5 1985.4,609.3 2004.2,612.6 2022.9,620.4 2041.6,623.8 2060.3,619.3 2079.1,616.0 2097.8,614.2 2116.5,614.9 2135.2,614.2 2154.0,616.0 2172.7,619.3 2191.4,620.4 2210.1,616.4 2228.9,618.2 2247.6,618.6 2266.3,616.6 2285.0,619.3 2303.8,622.7 2322.5,626.0 2341.2,627.1 2359.9,621.5 2378.7,622.7 2397.4,622.7 2416.1,622.7 2434.8,621.5 2453.6,616.0 2472.3,611.5 2491.0,609.9 2509.7,606.6 2528.5,604.8 2547.2,598.1 2565.9,591.4 2584.6,587.0 2603.4,584.3 2622.1,583.6 2640.8,590.3 2659.5,599.2 2678.3,595.9 2697.0,591.0 2715.7,595.5 2734.4,597.7 2753.2,601.5 2771.9,601.5 2790.6,595.9 2809.3,590.3 2828.1,595.9 2846.8,602.1 2865.5,606.6 2884.2,599.2 2903.0,598.6 2921.7,603.7 2940.4,599.9 2959.1,599.9 2977.9,599.2 2996.6,594.8 3015.3,597.0 3034.0,598.6 3052.8,599.2 3071.5,600.8 3090.2,602.6 3108.9,609.7 3127.7,615.3 3146.4,622.2 3165.1,626.7 3183.8,626.7 3202.6,629.3 3221.3,626.0 3240.0,626.7" stroke="#808080" stroke-opacity="0.3" stroke-width="4.2"/>
<polyline points="450.0,710.9 468.7,709.7 487.4,711.5 506.2,700.8 524.9,708.6 543.6,720.9 562.3,722.0 581.1,725.4 599.8,726.5 618.5,728.7 637.2,726.5 656.0,725.4 674.7,726.0 693.4,724.2 712.1,728.3 730.9,723.8 749.6,724.7 768.3,723.8 787.0,724.2 805.8,726.0 824.5,724.2 843.2,721.6 861.9,718.7 880.7,718.0 899.4,714.2 918.1,718.7 936.8,716.4 955.6,721.6 974.3,725.4 993.0,728.7 1011.7,729.1 1030.5,727.9 1049.2,723.0 1067.9,727.9 1086.6,722.6 1105.4,727.9 1124.1,729.7 1142.8,735.3 1161.5,729.7 1180.3,728.6 1199.0,736.4 1217.7,724.1 1236.4,736.4 1255.2,738.6 1273.9,728.6 1292.6,724.1 1311.3,711.9 1330.1,715.2 1348.8,714.5 1367.5,724.1 1386.2,730.8 1405.0,725.2 1423.7,727.9 1442.4,721.9 1461.1,723.0 1479.9,732.6 1498.6,734.6 1517.3,732.6 1536.0,734.2 1554.8,733.1 1573.5,741.3 1592.2,752.0 1610.9,751.6 1629.7,746.4 1648.4,746.0 1667.1,742.6 1685.8,736.0 1704.6,727.9 1723.3,733.7 1742.0,725.2 1760.7,730.8 1779.5,729.7 1798.2,727.5 1816.9,731.9 1835.6,726.4 1854.4,730.8 1873.1,730.8 1891.8,727.0 1910.5,727.9 1929.3,716.3 1948.0,719.7 1966.7,725.7 1985.4,724.8 2004.2,717.4 2022.9,725.2 2041.6,742.0 2060.3,741.3 2079.1,740.9 2097.8,743.5 2116.5,750.9 2135.2,752.0 2154.0,754.2 2172.7,753.1 2191.4,757.6 2210.1,764.3 2228.9,765.4 2247.6,774.3 2266.3,773.2 2285.0,765.4 2303.8,762.0 2322.5,756.5 2341.2,755.4 2359.9,763.2 2378.7,772.1 2397.4,778.8 2416.1,778.8 2434.8,774.3 2453.6,772.1 2472.3,763.2 2491.0,752.0 2509.7,755.4 2528.5,750.9 2547.2,755.4 2565.9,759.8 2584.6,760.9 2603.4,756.5 2622.1,750.2 2640.8,752.0 2659.5,753.8 2678.3,756.5 2697.0,753.1 2715.7,740.9 2734.4,744.2 2753.2,745.3 2771.9,742.6 2790.6,734.2 2809.3,733.1 2828.1,735.3 2846.8,740.9 2865.5,750.9 2884.2,759.8 2903.0,758.3 2921.7,754.2 2940.4,738.6 2959.1,731.5 2977.9,728.6 2996.6,728.6 3015.3,729.0 3034.0,727.5 3052.8,731.5 3071.5,729.0 3090.2,730.2 3108.9,723.7 3127.7,723.7 3146.4,730.8 3165.1,736.0 3183.8,744.2 3202.6,749.3 3221.3,748.0 3240.0,742.0" stroke="#808080" stroke-opacity="0.3" stroke-width="4.2"/>
<polyline points="450.0,722.0 468.7,709.7 487.4,723.1 506.2,733.2 524.9,732.0 543.6,731.4 562.3,734.9 581.1,732.7 599.8,735.8 618.5,739.2 637.2,734.9 656.0,743.2 674.7,736.5 693.4,738.7 712.1,744.3 730.9,754.3 749.6,768.8 768.3,767.7 787.0,766.6 805.8,762.6 824.5,773.3 843.2,772.9 861.9,777.3 880.7,772.2 899.4,766.6 918.1,762.8 936.8,760.4 955.6,761.0 974.3,751.0 993.0,746.5 1011.7,744.3 1030.5,746.4 1049.2,734.2 1067.9,727.5 1086.6,729.7 1105.4,735.3 1124.1,737.5 1142.8,737.1 1161.5,731.9 1180.3,733.7 1199.0,736.0 1217.7,741.5 1236.4,740.4 1255.2,734.2 1273.9,739.7 1292.6,731.5 1311.3,739.7 1330.1,733.1 1348.8,734.6 1367.5,724.1 1386.2,721.5 1405.0,719.7 1423.7,714.1 1442.4,721.9 1461.1,722.6 1479.9,717.4 1498.6,715.2 1517.3,713.6 1536.0,714.1 1554.8,710.8 1573.5,707.4 1592.2,710.8 1610.9,710.1 1629.7,705.2 1648.4,706.3 1667.1,700.7 1685.8,692.2 1704.6,686.2 1723.3,689.6 1742.0,680.6 1760.7,687.3 1779.5,691.3 1798.2,692.2 1816.9,697.4 1835.6,693.6 1854.4,698.9 1873.1,701.2 1891.8,707.4 1910.5,718.1 1929.3,728.6 1948.0,727.9 1966.7,740.9 1985.4,740.4 2004.2,742.0 2022.9,738.6 2041.6,735.3 2060.3,734.2 2079.1,738.6 2097.8,742.0 2116.5,747.1 2135.2,746.4 2154.0,758.7 2172.7,762.0 2191.4,764.3 2210.1,768.7 2228.9,766.5 2247.6,775.4 2266.3,777.7 2285.0,773.9 2303.8,770.3 2322.5,762.0 2341.2,760.9 2359.9,767.6 2378.7,776.5 2397.4,781.0 2416.1,782.8 2434.8,778.8 2453.6,776.1 2472.3,770.3 2491.0,759.8 2509.7,765.4 2528.5,759.1 2547.2,762.0 2565.9,763.2 2584.6,764.3 2603.4,758.7 2622.1,755.4 2640.8,756.5 2659.5,758.7 2678.3,756.5 2697.0,754.7 2715.7,742.0 2734.4,745.3 2753.2,748.7 2771.9,752.0 2790.6,746.9 2809.3,746.0 2828.1,746.4 2846.8,753.1 2865.5,765.4 2884.2,773.2 2903.0,768.7 2921.7,764.3 2940.4,752.0 2959.1,746.4 2977.9,745.3 2996.6,747.1 3015.3,748.7 3034.0,748.0 3052.8,755.4 3071.5,755.4 3090.2,754.2 3108.9,749.8 3127.7,749.3 3146.4,749.8 3165.1,749.8 3183.8,756.5 3202.6,765.4 3221.3,762.0 3240.0,754.2" stroke="#808080" stroke-opacity="0.3" stroke-width="4.2"/>
<polyline points="450.0,729.4 468.7,728.7 487.4,719.8 506.2,708.6 524.9,712.0 543.6,714.2 562.3,717.1 581.1,715.3 599.8,712.6 618.5,714.9 637.2,713.5 656.0,713.5 674.7,715.3 693.4,717.5 712.1,718.7 730.9,719.3 749.6,716.4 768.3,714.9 787.0,713.8 805.8,718.7 824.5,716.0 843.2,710.9 861.9,710.4 880.7,710.9 899.4,713.1 918.1,715.3 936.8,712.0 955.6,714.9 974.3,717.5 993.0,721.6 1011.7,719.8 1030.5,715.9 1049.2,716.8 1067.9,730.8 1086.6,719.7 1105.4,710.8 1124.1,715.2 1142.8,716.3 1161.5,709.6 1180.3,711.9 1199.0,708.5 1217.7,711.4 1236.4,706.3 1255.2,703.4 1273.9,702.9 1292.6,698.5 1311.3,700.7 1330.1,698.5 1348.8,696.3 1367.5,691.8 1386.2,686.2 1405.0,676.9 1423.7,679.5 1442.4,675.1 1461.1,678.4 1479.9,684.7 1498.6,688.4 1517.3,678.9 1536.0,678.4 1554.8,674.4 1573.5,682.9 1592.2,691.3 1610.9,692.2 1629.7,691.8 1648.4,698.0 1667.1,701.8 1685.8,706.3 1704.6,704.7 1723.3,715.2 1742.0,725.2 1760.7,728.6 1779.5,738.6 1798.2,734.2 1816.9,723.0 1835.6,737.5 1854.4,733.1 1873.1,731.9 1891.8,739.7 1910.5,745.3 1929.3,758.7 1948.0,754.9 1966.7,762.0 1985.4,758.7 2004.2,759.8 2022.9,762.0 2041.6,757.6 2060.3,756.0 2079.1,749.8 2097.8,746.4 2116.5,758.7 2135.2,764.3 2154.0,766.5 2172.7,772.5 2191.4,778.8 2210.1,782.8 2228.9,783.7 2247.6,775.4 2266.3,767.6 2285.0,764.3 2303.8,765.4 2322.5,763.2 2341.2,764.9 2359.9,773.2 2378.7,784.3 2397.4,771.0 2416.1,769.4 2434.8,768.3 2453.6,766.5 2472.3,775.4 2491.0,785.5 2509.7,782.1 2528.5,772.1 2547.2,773.2 2565.9,772.5 2584.6,769.8 2603.4,762.0 2622.1,759.8 2640.8,760.5 2659.5,766.5 2678.3,763.2 2697.0,766.5 2715.7,773.2 2734.4,770.3 2753.2,771.0 2771.9,776.5 2790.6,773.9 2809.3,776.5 2828.1,784.3 2846.8,781.4 2865.5,765.4 2884.2,761.4 2903.0,759.8 2921.7,756.9 2940.4,754.2 2959.1,758.7 2977.9,754.2 2996.6,752.5 3015.3,754.2 3034.0,756.0 3052.8,758.7 3071.5,759.8 3090.2,757.6 3108.9,753.8 3127.7,753.1 3146.4,754.2 3165.1,757.6 3183.8,771.0 3202.6,771.6 3221.3,766.5 3240.0,758.7" stroke="#808080" stroke-opacity="0.3" stroke-width="4.2"/>
<polyline points="1423.7,847.4 1442.4,844.7 1461.1,842.9 1479.9,847.4 1498.6,852.3 1517.3,854.1 1536.0,854.8 1554.8,853.4 1573.5,847.4 1592.2,842.3 1610.9,829.1 1629.7,826.2 1648.4,823.5 1667.1,825.8 1685.8,824.0 1704.6,820.2 1723.3,816.2 1742.0,817.7 1760.7,810.2 1779.5,809.5 1798.2,806.8 1816.9,803.2 1835.6,803.5 1854.4,813.3 1873.1,812.8 1891.8,812.2 1910.5,817.3 1929.3,822.9 1948.0,823.5 1966.7,834.0 1985.4,835.1 2004.2,835.1 2022.9,832.9 2041.6,830.0 2060.3,820.2 2079.1,819.1 2097.8,817.3 2116.5,818.4 2135.2,816.2 2154.0,806.6 2172.7,809.5 2191.4,815.5 2210.1,815.5 2228.9,815.7 2247.6,816.2 2266.3,812.4 2285.0,816.2 2303.8,822.9 2322.5,830.7 2341.2,831.3 2359.9,825.1 2378.7,819.1 2397.4,809.0 2416.1,807.3 2434.8,810.2 2453.6,805.5 2472.3,796.1 2491.0,789.0 2509.7,786.1 2528.5,781.2 2547.2,786.5 2565.9,792.3 2584.6,783.8 2603.4,786.1 2622.1,788.3 2640.8,795.0 2659.5,792.1 2678.3,789.9 2697.0,790.1 2715.7,790.5 2734.4,795.0 2753.2,790.5 2771.9,789.0 2790.6,793.9 2809.3,792.8 2828.1,800.1 2846.8,795.7 2865.5,793.4 2884.2,782.3 2903.0,778.3 2921.7,771.1 2940.4,758.2 2959.1,764.9 2977.9,772.2 2996.6,778.7 3015.3,782.3 3034.0,776.0 3052.8,775.6 3071.5,773.8 3090.2,780.0 3108.9,776.5 3127.7,772.7 3146.4,787.2 3165.1,768.9 3183.8,770.0 3202.6,773.4 3221.3,771.6 3240.0,771.6" stroke="#808080" stroke-opacity="0.3" stroke-width="4.2"/>
<polyline points="450.0,814.5 468.7,802.9 487.4,802.4 506.2,812.5 524.9,805.1 543.6,811.3 562.3,816.7" stroke="#808080" stroke-opacity="0.3" stroke-width="4.2"/>
<polyline points="450.0,817.5 468.7,805.9 487.4,805.4 506.2,815.5 524.9,808.1 543.6,814.3 562.3,819.7 581.1,827.0 599.8,828.2 618.5,823.3 637.2,827.7 656.0,836.4 674.7,844.2 693.4,843.1 712.1,844.4 730.9,841.1 749.6,838.9 768.3,834.4 787.0,834.9 805.8,837.1 824.5,835.5 843.2,837.8 861.9,842.0 880.7,845.6 899.4,843.8 918.1,848.2 936.8,851.6 955.6,847.8 974.3,838.2 993.0,835.5 1011.7,850.5 1030.5,862.7 1049.2,864.5 1067.9,862.3 1086.6,860.5 1105.4,855.4 1124.1,857.2 1142.8,862.1 1161.5,860.9 1180.3,863.8 1199.0,859.4 1217.7,855.4 1236.4,856.0 1255.2,871.2 1273.9,874.3 1292.6,871.0 1311.3,868.3 1330.1,871.2 1348.8,869.9 1367.5,860.9 1386.2,863.8 1405.0,858.3 1423.7,852.7 1442.4,850.0 1461.1,848.2 1479.9,852.7 1498.6,857.6 1517.3,859.4 1536.0,860.1 1554.8,858.7 1573.5,852.7 1592.2,847.6 1610.9,834.4 1629.7,831.5 1648.4,828.8 1667.1,831.1 1685.8,829.3 1704.6,825.5 1723.3,821.5 1742.0,823.0 1760.7,815.5 1779.5,814.8 1798.2,812.1 1816.9,808.5 1835.6,808.8 1854.4,818.6 1873.1,818.1 1891.8,817.5 1910.5,822.6 1929.3,828.2 1948.0,828.8 1966.7,839.3 1985.4,840.4 2004.2,840.4 2022.9,838.2 2041.6,835.3 2060.3,825.5 2079.1,824.4 2097.8,822.6 2116.5,823.7 2135.2,821.5 2154.0,811.9 2172.7,814.8 2191.4,820.8 2210.1,820.8 2228.9,821.0 2247.6,821.5 2266.3,817.7 2285.0,821.5 2303.8,828.2 2322.5,836.0 2341.2,836.6 2359.9,830.4 2378.7,824.4 2397.4,814.3 2416.1,812.6 2434.8,815.5 2453.6,810.8 2472.3,801.4 2491.0,794.3 2509.7,791.4 2528.5,786.5 2547.2,791.8 2565.9,797.6 2584.6,789.1 2603.4,791.4 2622.1,793.6 2640.8,800.3 2659.5,797.4 2678.3,795.2 2697.0,795.4 2715.7,795.8 2734.4,800.3 2753.2,795.8 2771.9,794.3 2790.6,799.2 2809.3,798.1 2828.1,805.4 2846.8,801.0 2865.5,798.7 2884.2,787.6 2903.0,783.6 2921.7,776.4 2940.4,763.5 2959.1,770.2 2977.9,777.5 2996.6,784.0 3015.3,787.6 3034.0,781.3 3052.8,780.9 3071.5,779.1 3090.2,785.3 3108.9,781.8 3127.7,778.0 3146.4,792.5 3165.1,774.2 3183.8,775.3 3202.6,778.7 3221.3,776.9 3240.0,776.9" stroke="#808080" stroke-width="4.2"/>
<polyline points="450.0,484.0 468.7,487.4 487.4,491.8 506.2,496.9 524.9,491.4 543.6,490.7 562.3,486.9 581.1,484.7 599.8,499.2 618.5,509.2 637.2,509.2 656.0,504.7 674.7,507.4 693.4,505.4 712.1,512.6 730.9,507.4 749.6,508.5 768.3,521.9 787.0,523.3 805.8,533.7 824.5,530.4 843.2,534.4 861.9,531.1 880.7,534.4 899.4,538.6 918.1,536.0 936.8,541.5 955.6,537.8 974.3,534.4 993.0,534.9 1011.7,530.8 1030.5,536.0 1049.2,536.4 1067.9,535.5 1086.6,538.2 1105.4,536.0 1124.1,538.6 1142.8,540.4 1161.5,526.4 1180.3,522.1 1199.0,522.1 1217.7,525.9 1236.4,518.6 1255.2,517.7 1273.9,505.9 1292.6,504.3 1311.3,499.8 1330.1,493.1 1348.8,487.6 1367.5,483.6 1386.2,485.8 1405.0,490.7 1423.7,491.8 1442.4,493.6 1461.1,493.6 1479.9,486.9 1498.6,485.3 1517.3,488.7 1536.0,491.4 1554.8,490.2 1573.5,494.7 1592.2,495.4 1610.9,495.2 1629.7,496.3 1648.4,497.4 1667.1,501.4 1685.8,496.9 1704.6,499.6 1723.3,502.1 1742.0,501.4 1760.7,500.7 1779.5,503.0 1798.2,508.8 1816.9,510.1 1835.6,519.7 1854.4,528.6 1873.1,531.1 1891.8,524.8 1910.5,523.9 1929.3,531.5 1948.0,532.4 1966.7,529.3 1985.4,521.5 2004.2,520.8 2022.9,519.9 2041.6,523.7 2060.3,523.9 2079.1,524.4 2097.8,522.1 2116.5,523.3 2135.2,518.1 2154.0,517.7 2172.7,519.7 2191.4,516.3 2210.1,511.9 2228.9,515.5 2247.6,515.2 2266.3,513.7 2285.0,516.3 2303.8,511.9 2322.5,509.9 2341.2,509.9 2359.9,507.0 2378.7,507.6 2397.4,503.0 2416.1,495.2 2434.8,493.6 2453.6,492.0 2472.3,491.8 2491.0,490.7 2509.7,494.0 2528.5,494.7 2547.2,494.7 2565.9,489.8 2584.6,488.5 2603.4,484.7 2622.1,490.7 2640.8,492.9 2659.5,493.6 2678.3,494.5 2697.0,495.2 2715.7,495.2 2734.4,497.4 2753.2,493.1 2771.9,498.1 2790.6,496.9 2809.3,498.5 2828.1,495.8 2846.8,495.8 2865.5,496.9 2884.2,499.6 2903.0,496.9 2921.7,497.6 2940.4,496.3 2959.1,495.2 2977.9,496.9 2996.6,499.8 3015.3,506.3 3034.0,513.0 3052.8,512.6 3071.5,514.3 3090.2,518.8 3108.9,517.0 3127.7,515.5 3146.4,515.9 3165.1,516.6 3183.8,516.3 3202.6,500.3 3221.3,497.4 3240.0,494.0" stroke="#808080" stroke-width="4.2"/>
<polyline points="450.0,589.0 468.7,595.1 487.4,600.6 506.2,596.9 524.9,599.1 543.6,608.4 562.3,610.7 581.1,601.8 599.8,600.2 618.5,600.6 637.2,607.3 656.0,613.6 674.7,615.8 693.4,612.5 712.1,615.1 730.9,614.0 749.6,612.9 768.3,610.0 787.0,609.1 805.8,607.3 824.5,602.9 843.2,601.1 861.9,601.8 880.7,607.3 899.4,611.3 918.1,613.4 936.8,614.0 955.6,619.6 974.3,620.0 993.0,626.3 1011.7,630.1 1030.5,630.1 1049.2,631.9 1067.9,631.2 1086.6,627.4 1105.4,619.6 1124.1,621.8 1142.8,631.2 1161.5,628.1 1180.3,628.1 1199.0,627.4 1217.7,628.5 1236.4,628.1 1255.2,629.0 1273.9,631.2 1292.6,625.2 1311.3,628.1 1330.1,622.9 1348.8,624.7 1367.5,616.3 1386.2,615.1 1405.0,612.5 1423.7,612.5 1442.4,611.3 1461.1,609.6 1479.9,612.9 1498.6,616.9 1517.3,616.9 1536.0,617.8 1554.8,618.0 1573.5,616.3 1592.2,618.5 1610.9,614.5 1629.7,619.6 1648.4,624.7 1667.1,627.9 1685.8,626.3 1704.6,621.8 1723.3,626.3 1742.0,620.7 1760.7,620.7 1779.5,620.0 1798.2,618.5 1816.9,622.5 1835.6,617.4 1854.4,621.4 1873.1,622.3 1891.8,628.1 1910.5,634.8 1929.3,639.2 1948.0,639.7 1966.7,646.4 1985.4,641.9 2004.2,641.9 2022.9,646.4 2041.6,639.2 2060.3,632.5 2079.1,636.3 2097.8,637.4 2116.5,638.1 2135.2,642.3 2154.0,640.3 2172.7,642.3 2191.4,644.8 2210.1,647.5 2228.9,646.8 2247.6,653.1 2266.3,654.2 2285.0,649.0 2303.8,648.6 2322.5,647.5 2341.2,643.7 2359.9,645.2 2378.7,649.7 2397.4,647.5 2416.1,647.9 2434.8,646.4 2453.6,644.1 2472.3,643.7 2491.0,641.5 2509.7,646.4 2528.5,647.5 2547.2,650.8 2565.9,644.6 2584.6,638.6 2603.4,636.3 2622.1,634.5 2640.8,630.8 2659.5,633.6 2678.3,634.1 2697.0,633.4 2715.7,628.1 2734.4,630.1 2753.2,628.5 2771.9,628.5 2790.6,626.7 2809.3,629.2 2828.1,633.0 2846.8,633.6 2865.5,640.3 2884.2,641.5 2903.0,641.9 2921.7,641.9 2940.4,635.9 2959.1,634.8 2977.9,633.0 2996.6,630.8 3015.3,633.4 3034.0,633.0 3052.8,635.9 3071.5,633.6 3090.2,636.3 3108.9,634.1 3127.7,638.1 3146.4,641.9 3165.1,641.9 3183.8,644.8 3202.6,650.4 3221.3,651.3 3240.0,649.7" stroke="#000000" stroke-width="8.3"/>
<polyline points="730.9,662.0 749.6,660.4 768.3,653.1 787.0,658.0 805.8,660.4 824.5,665.3 843.2,665.8 861.9,669.3 880.7,664.2 899.4,671.6 918.1,668.0 936.8,666.0 955.6,671.3 974.3,660.9 993.0,660.2 1011.7,670.2 1030.5,674.2 1049.2,684.3 1067.9,688.1 1086.6,693.6 1105.4,696.1 1124.1,695.9 1142.8,697.2 1161.5,693.9 1180.3,699.9 1199.0,696.5 1217.7,698.8 1236.4,699.9 1255.2,696.5 1273.9,692.5 1292.6,689.8 1311.3,692.5 1330.1,700.3 1348.8,698.8 1367.5,698.8 1386.2,695.0 1405.0,695.9 1423.7,697.0 1442.4,697.9 1461.1,698.8 1479.9,699.7 1498.6,705.5 1517.3,697.7 1536.0,725.8" stroke="#008000" stroke-width="12.5" stroke-linecap="square"/>
</g>
<g stroke="#000" stroke-width="2.08" stroke-dasharray="4.1667 12.5" fill="none">
<line x1="619.0" y1="1837.5" x2="619.0" y2="210.0"/>
<line x1="993.0" y1="1837.5" x2="993.0" y2="210.0"/>
<line x1="1368.0" y1="1837.5" x2="1368.0" y2="210.0"/>
<line x1="1742.0" y1="1837.5" x2="1742.0" y2="210.0"/>
<line x1="2117.0" y1="1837.5" x2="2117.0" y2="210.0"/>
<line x1="2491.0" y1="1837.5" x2="2491.0" y2="210.0"/>
<line x1="2866.0" y1="1837.5" x2="2866.0" y2="210.0"/>
<line x1="450.0" y1="1566.0" x2="3240.0" y2="1566.0"/>
<line x1="450.0" y1="1295.0" x2="3240.0" y2="1295.0"/>
<line x1="450.0" y1="1024.0" x2="3240.0" y2="1024.0"/>
<line x1="450.0" y1="753.0" x2="3240.0" y2="753.0"/>
<line x1="450.0" y1="481.0" x2="3240.0" y2="481.0"/>
</g>
<g stroke="#000" stroke-width="2.1" fill="none">
<line x1="619.0" y1="1837.5" x2="619.0" y2="1820.8"/>
<line x1="619.0" y1="210.0" x2="619.0" y2="226.7"/>
<line x1="993.0" y1="1837.5" x2="993.0" y2="1820.8"/>
<line x1="993.0" y1="210.0" x2="993.0" y2="226.7"/>
<line x1="1368.0" y1="1837.5" x2="1368.0" y2="1820.8"/>
<line x1="1368.0" y1="210.0" x2="1368.0" y2="226.7"/>
<line x1="1742.0" y1="1837.5" x2="1742.0" y2="1820.8"/>
<line x1="1742.0" y1="210.0" x2="1742.0" y2="226.7"/>
<line x1="2117.0" y1="1837.5" x2="2117.0" y2="1820.8"/>
<line x1="2117.0" y1="210.0" x2="2117.0" y2="226.7"/>
<line x1="2491.0" y1="1837.5" x2="2491.0" y2="1820.8"/>
<line x1="2491.0" y1="210.0" x2="2491.0" y2="226.7"/>
<line x1="2866.0" y1="1837.5" x2="2866.0" y2="1820.8"/>
<line x1="2866.0" y1="210.0" x2="2866.0" y2="226.7"/>
<line x1="3240.0" y1="1837.5" x2="3240.0" y2="1820.8"/>
<line x1="3240.0" y1="210.0" x2="3240.0" y2="226.7"/>
<line x1="450.0" y1="1838.0" x2="466.7" y2="1838.0"/>
<line x1="3240.0" y1="1838.0" x2="3223.3" y2="1838.0"/>
<line x1="450.0" y1="1566.0" x2="466.7" y2="1566.0"/>
<line x1="3240.0" y1="1566.0" x2="3223.3" y2="1566.0"/>
<line x1="450.0" y1="1295.0" x2="466.7" y2="1295.0"/>
<line x1="3240.0" y1="1295.0" x2="3223.3" y2="1295.0"/>
<line x1="450.0" y1="1024.0" x2="466.7" y2="1024.0"/>
<line x1="3240.0" y1="1024.0" x2="3223.3" y2="1024.0"/>
<line x1="450.0" y1="753.0" x2="466.7" y2="753.0"/>
<line x1="3240.0" y1="753.0" x2="3223.3" y2="753.0"/>
<line x1="450.0" y1="481.0" x2="466.7" y2="481.0"/>
<line x1="3240.0" y1="481.0" x2="3223.3" y2="481.0"/>
<line x1="450.0" y1="210.0" x2="466.7" y2="210.0"/>
<line x1="3240.0" y1="210.0" x2="3223.3" y2="210.0"/>
</g>
<rect x="450.0" y="210.0" width="2790.0" height="1628.0" fill="none" stroke="#000" stroke-width="4.2"/>
<text class="tk" x="618.5" y="1895.5" text-anchor="middle">1960</text>
<text class="tk" x="993.0" y="1895.5" text-anchor="middle">1980</text>
<text class="tk" x="1367.5" y="1895.5" text-anchor="middle">2000</text>
<text class="tk" x="1742.0" y="1895.5" text-anchor="middle">2020</text>
<text class="tk" x="2116.5" y="1895.5" text-anchor="middle">2040</text>
<text class="tk" x="2491.0" y="1895.5" text-anchor="middle">2060</text>
<text class="tk" x="2865.5" y="1895.5" text-anchor="middle">2080</text>
<text class="tk" x="3240.0" y="1895.5" text-anchor="middle">2100</text>
<text class="tk" x="434.0" y="1852.8" text-anchor="end">0</text>
<text class="tk" x="434.0" y="1581.5" text-anchor="end">50</text>
<text class="tk" x="434.0" y="1310.3" text-anchor="end">100</text>
<text class="tk" x="434.0" y="1039.0" text-anchor="end">150</text>
<text class="tk" x="434.0" y="767.8" text-anchor="end">200</text>
<text class="tk" x="434.0" y="496.6" text-anchor="end">250</text>
<text class="tk" x="434.0" y="225.3" text-anchor="end">300</text>
<text x="1845.0" y="189.4" text-anchor="middle" font-size="70">Mērsrags.Jūl</text>
<text x="1845.0" y="1967.8" text-anchor="middle" font-size="59">Gads</text>
<g transform="translate(307.0,0) rotate(-90)">
<text x="-1586.0" y="0" font-size="58" textLength="950" lengthAdjust="spacing">Saules radiācija uz horizontālas virsmas,</text>
<text transform="translate(-625.0,0.0) scale(1.15,1)" font-size="62" font-style="italic">W</text>
<text transform="translate(-565.0,13.0) scale(1.0,1)" font-size="85" font-style="normal">/</text>
<text transform="translate(-538.0,0.0) scale(1.2,1)" font-size="62" font-style="italic">m</text>
<text transform="translate(-482.0,-23.0) scale(1.0,1)" font-size="40" font-style="normal">2</text>
</g>
<rect x="484.9" y="1385.7" width="590.5" height="416.7" fill="#fff" stroke="#000" stroke-width="4.2"/>
<line x1="534.0" y1="1437.8" x2="632.0" y2="1437.8" stroke="#808080" stroke-width="4.2" stroke-linecap="square"/>
<text class="lg" x="708.6" y="1462.2">13%</text>
<line x1="534.0" y1="1536.7" x2="632.0" y2="1536.7" stroke="#808080" stroke-width="4.2" stroke-linecap="square"/>
<text class="lg" x="708.6" y="1560.9">87%</text>
<line x1="534.0" y1="1635.7" x2="632.0" y2="1635.7" stroke="#000000" stroke-width="8.3" stroke-linecap="square"/>
<text class="lg" x="708.6" y="1660.2">Mediāna</text>
<line x1="534.0" y1="1735.4" x2="632.0" y2="1735.4" stroke="#008000" stroke-width="12.5" stroke-linecap="square"/>
<text class="lg" x="708.6" y="1759.9">Novērojumi</text>
</svg></body></html>
